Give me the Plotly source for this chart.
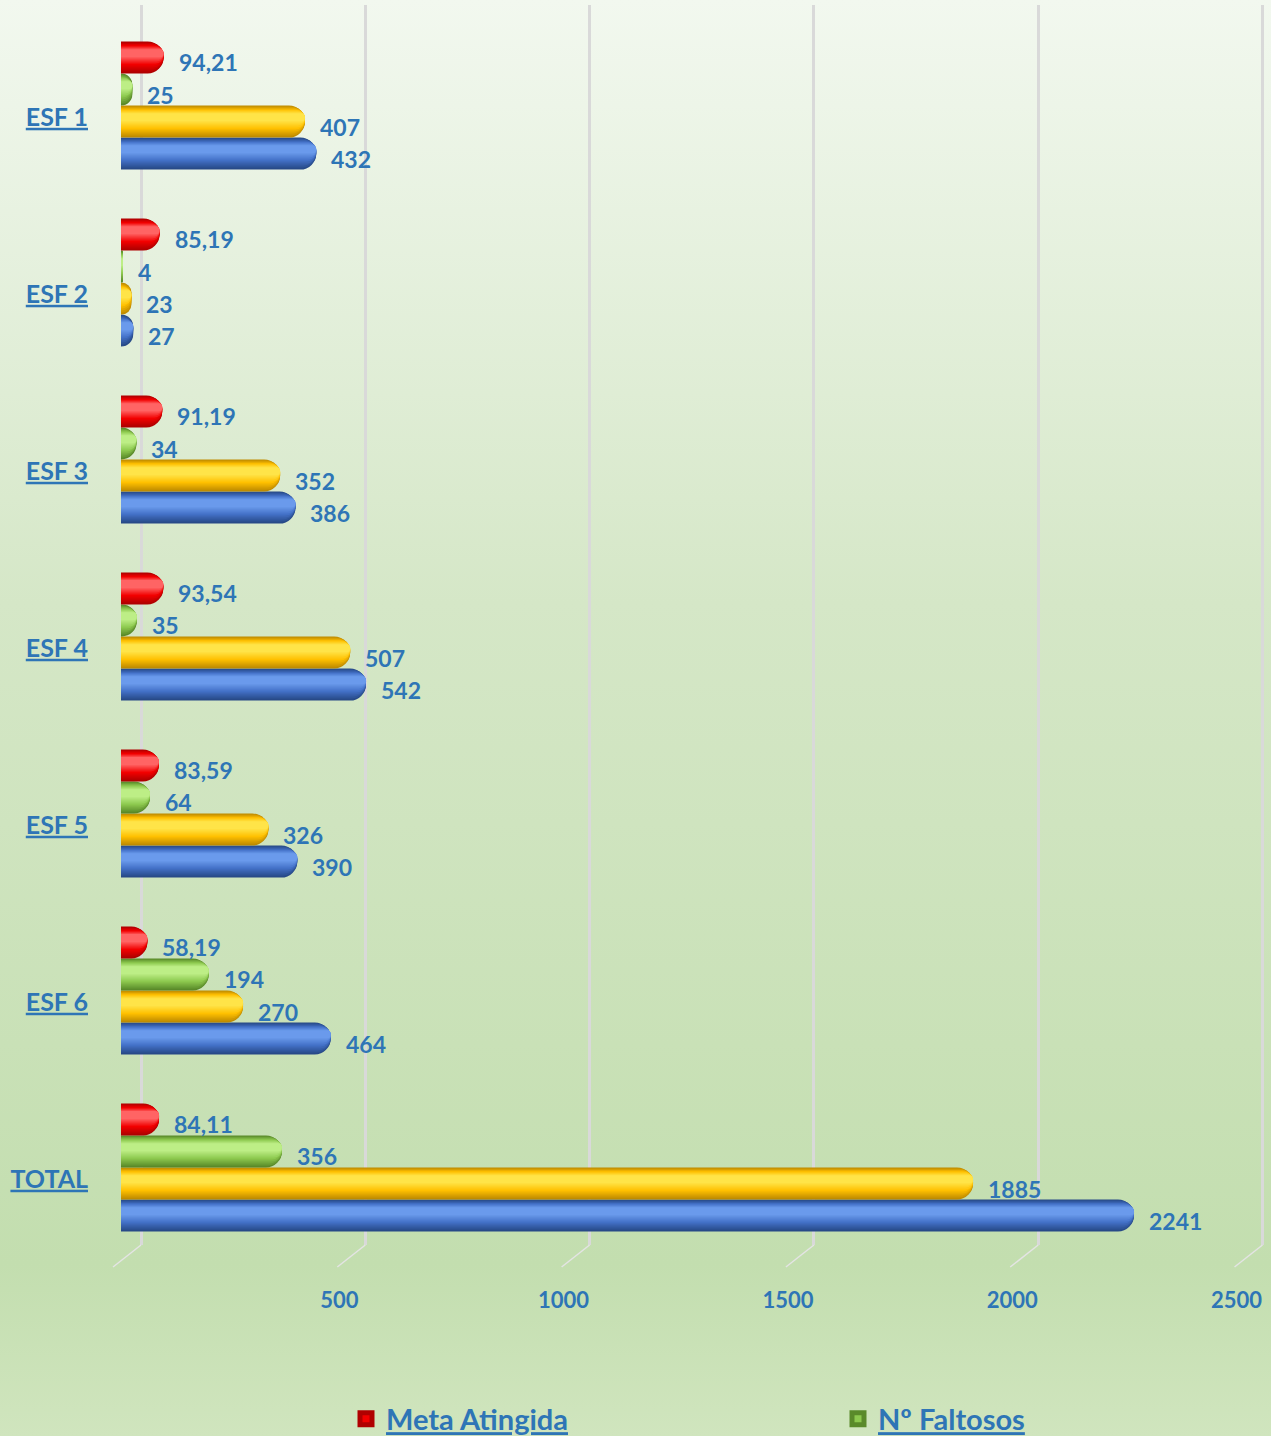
import base64
import plotly.graph_objects as go

# ---- data -------------------------------------------------------------
categories = ["ESF 1", "ESF 2", "ESF 3", "ESF 4", "ESF 5", "ESF 6", "TOTAL"]
agendados = [432, 27, 386, 542, 390, 464, 2241]
comparecidos = [407, 23, 352, 507, 326, 270, 1885]
faltosos = [25, 4, 34, 35, 64, 194, 356]
meta_atingida = [94.21, 85.19, 91.19, 93.54, 83.59, 58.19, 84.11]
x_ticks = [500, 1000, 1500, 2000, 2500]

# ---- styling ----------------------------------------------------------
W, H = 1271, 1436
M_L, M_R, M_T, M_B = 121, 5, 5, 191
PLOT_W = W - M_L - M_R
PLOT_H = H - M_T - M_B

TEXT_BLUE = "#2E75B6"
GRID = "#D9D9D9"
FONT = "Lato"

PX_PER_UNIT = 0.452          # front plane (bars)
PX_PER_UNIT_BACK = 0.4486    # back wall (gridlines)
BACK_SHIFT = 20              # px the back wall sits to the right of the bars' base

x_range = [0, PLOT_W / PX_PER_UNIT]
x2_lo = -BACK_SHIFT / PX_PER_UNIT_BACK
x2_range = [x2_lo, x2_lo + PLOT_W / PX_PER_UNIT_BACK]

SLOT = 0.181                 # bar thickness in category units
GROUP_SHIFT = -0.065         # bars sit slightly above the category label


def mix(c1, c2, t):
    a = [int(c1[i:i + 2], 16) for i in (1, 3, 5)]
    b = [int(c2[i:i + 2], 16) for i in (1, 3, 5)]
    return "#" + "".join(f"{round(x + (y - x) * t):02X}" for x, y in zip(a, b))


def tone(dark, main, light, t):
    return mix(dark, main, t) if t <= 1 else mix(main, light, t - 1)


# series from top to bottom inside each group:
# (values, name, dark, main, light, in legend, rank, label fmt)
series = [
    (meta_atingida, "Meta Atingida", "#B00000", "#F20000", "#FF6464", True, 1,
     lambda v: f"{v:.2f}".replace(".", ",")),
    (faltosos, "Nº Faltosos", "#5A8A2A", "#8CC84E", "#BDEE86", True, 2, lambda v: f"{v}"),
    (comparecidos, "Comparecidos", "#C08C00", "#FFC000", "#FFE448", False, 3, lambda v: f"{v}"),
    (agendados, "Agendados", "#284A88", "#4270C6", "#6A9AEC", False, 4, lambda v: f"{v}"),
]

# cylinder shading: nested bands, each thinner, lighter and a little higher
N_BANDS = 9
layers = []
for j in range(N_BANDS):
    f = j / (N_BANDS - 1)
    thick = 1.0 - 0.74 * f
    centre = 0.5 - 0.13 * f
    layers.append((centre - thick / 2, thick, 2.0 * f))

ypos = list(range(len(categories)))

fig = go.Figure()
annotations = []

# draw bottom series first so upper bars sit on top
for k in reversed(range(len(series))):
    vals, name, dark, main, light, in_leg, rank, fmt = series[k]
    base_off = GROUP_SHIFT - 2 * SLOT + k * SLOT
    for rel_off, rel_w, t in layers:
        fig.add_trace(go.Bar(
            x=vals, y=ypos, orientation="h",
            offset=base_off + rel_off * SLOT,
            width=rel_w * SLOT,
            marker=dict(color=tone(dark, main, light, t), cornerradius="50%",
                        line=dict(width=0)),
            name=name, showlegend=False, hoverinfo="skip",
        ))
    if in_leg:
        # legend swatch for the series
        fig.add_trace(go.Bar(
            x=[None], y=[None], orientation="h", name=name,
            marker=dict(color=main, line=dict(color=dark, width=5)),
            showlegend=True, legendrank=rank, hoverinfo="skip",
        ))
    centre = base_off + SLOT / 2
    for yi, v in zip(ypos, vals):
        annotations.append(dict(
            x=v, y=yi + centre, xref="x", yref="y",
            text=fmt(v), showarrow=False,
            xanchor="left", yanchor="middle",
            xshift=13, yshift=-5,
            font=dict(family=FONT, size=23, color=TEXT_BLUE, weight="bold"),
        ))

# anchor trace for the back-wall axis
fig.add_trace(go.Scatter(
    x=[0], y=[0], xaxis="x2", mode="markers",
    marker=dict(opacity=0), showlegend=False, hoverinfo="skip",
))

# floor ticks of the 3-D base
shapes = []
span2 = x2_range[1] - x2_range[0]
for v in [0] + x_ticks:
    px = (v - x2_range[0]) / span2
    shapes.append(dict(
        type="line", xref="paper", yref="paper",
        x0=px, y0=0, x1=px - 28 / PLOT_W, y1=-22 / PLOT_H,
        line=dict(color="#E4E4E4", width=1.5),
    ))

# background gradient
svg = (
    '<svg xmlns="http://www.w3.org/2000/svg" width="100" height="100" '
    'viewBox="0 0 100 100" preserveAspectRatio="none">'
    '<defs><linearGradient id="g" x1="0" y1="0" x2="0" y2="1">'
    '<stop offset="0" stop-color="#F2F8EF"/>'
    '<stop offset="0.42" stop-color="#D5E7C7"/>'
    '<stop offset="0.88" stop-color="#C3DEAF"/>'
    '<stop offset="1" stop-color="#D0E5BE"/>'
    '</linearGradient></defs>'
    '<rect x="0" y="0" width="100" height="100" fill="url(#g)"/></svg>'
)
bg_src = "data:image/svg+xml;base64," + base64.b64encode(svg.encode()).decode()

fig.update_layout(
    width=W, height=H,
    margin=dict(l=M_L, r=M_R, t=M_T, b=M_B, autoexpand=False),
    paper_bgcolor="#D3E6C4",
    plot_bgcolor="rgba(0,0,0,0)",
    barmode="overlay",
    showlegend=True,
    images=[dict(
        source=bg_src, xref="paper", yref="paper",
        x=-M_L / PLOT_W, y=1 + M_T / PLOT_H,
        sizex=W / PLOT_W, sizey=H / PLOT_H,
        xanchor="left", yanchor="top",
        sizing="stretch", layer="below",
    )],
    xaxis=dict(
        range=x_range, showgrid=False, zeroline=False,
        showticklabels=False, ticks="", showline=False, fixedrange=True,
    ),
    xaxis2=dict(
        overlaying="x", anchor="y", side="bottom",
        range=x2_range, tickvals=x_ticks,
        showgrid=True, gridcolor=GRID, gridwidth=3,
        zeroline=True, zerolinecolor=GRID, zerolinewidth=3,
        showline=False, ticks="",
        tickfont=dict(family=FONT, size=22, color=TEXT_BLUE, weight="bold"),
        ticklabelshift=-26, ticklabelstandoff=40,
    ),
    yaxis=dict(
        range=[6.373, -0.633], tickvals=ypos, ticktext=categories,
        showgrid=False, zeroline=False, showline=False, ticks="",
        tickfont=dict(family=FONT, size=25, color=TEXT_BLUE, weight="bold",
                      lineposition="under"),
        ticklabelstandoff=32,
    ),
    legend=dict(
        orientation="h", x=(346 - M_L) / PLOT_W, xanchor="left",
        y=-(1419 - (M_T + PLOT_H)) / PLOT_H, yanchor="middle",
        entrywidth=447, entrywidthmode="pixels",
        bgcolor="rgba(0,0,0,0)",
        font=dict(family=FONT, size=29, color=TEXT_BLUE, weight="bold",
                  lineposition="under"),
        traceorder="normal",
    ),
    annotations=annotations,
    shapes=shapes,
)

fig.write_html("out.html")
